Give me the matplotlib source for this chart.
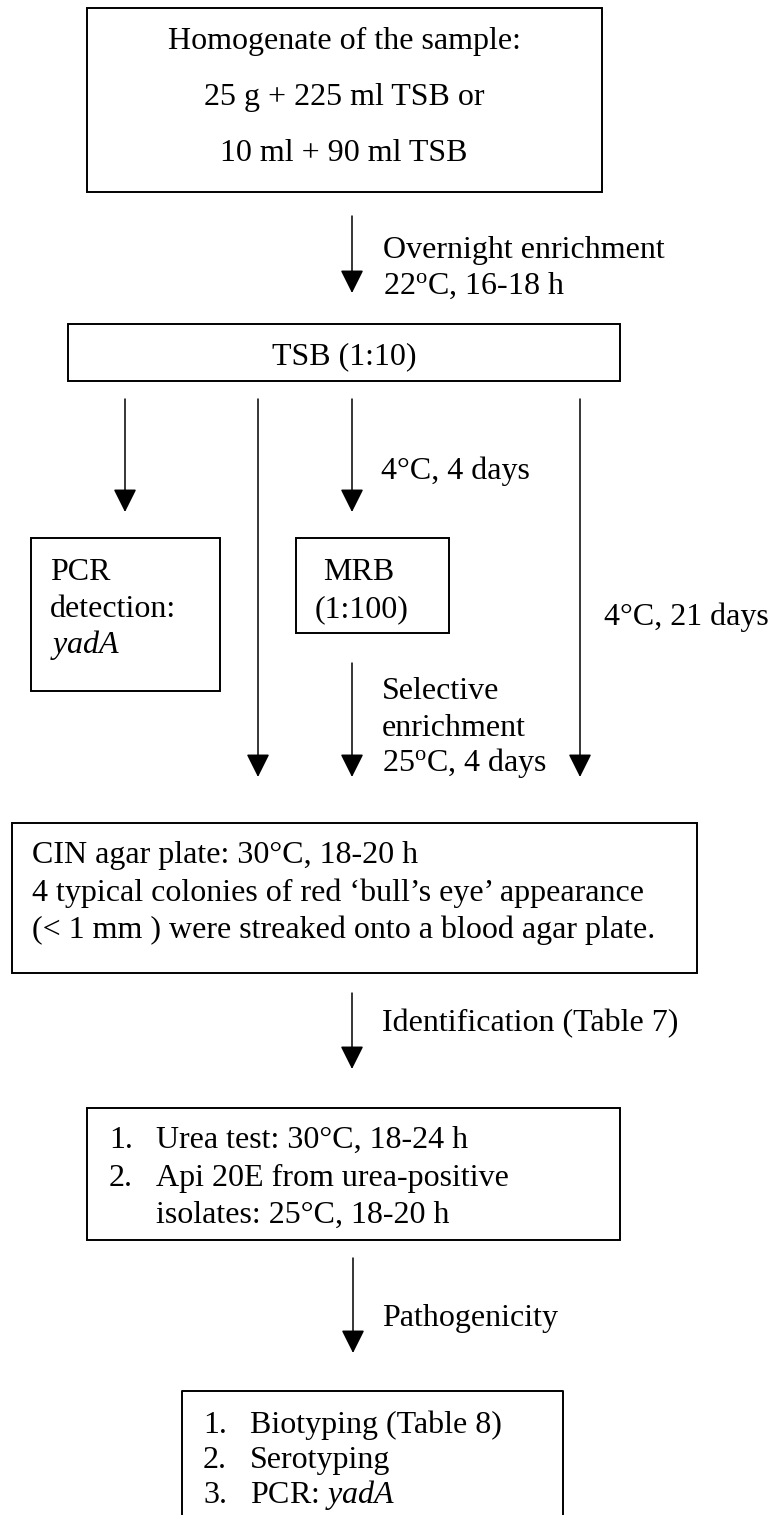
import matplotlib.pyplot as plt
from matplotlib.patches import Rectangle

plt.rcParams['font.family'] = ['Liberation Serif', 'DejaVu Serif']
plt.rcParams['mathtext.fontset'] = 'custom'
plt.rcParams['mathtext.rm'] = 'Liberation Serif'
plt.rcParams['mathtext.it'] = 'Liberation Serif:italic'

W, H = 773, 1515
FS = 23

# texts of the flowchart
sample_lines = ["Homogenate of the sample:", "25 g + 225 ml TSB or", "10 ml + 90 ml TSB"]
overnight_lines = ["Overnight enrichment", r"22$^\mathrm{o}$C, 16-18 h"]
tsb_label = "TSB (1:10)"
cold4_label = "4°C, 4 days"
pcr_lines = ["PCR", "detection:", r"$\mathit{yadA}$"]
mrb_lines = ["MRB", "(1:100)"]
cold21_label = "4°C, 21 days"
selective_lines = ["Selective", "enrichment", r"25$^\mathrm{o}$C, 4 days"]
cin_lines = ["CIN agar plate: 30°C, 18-20 h",
             "4 typical colonies of red \u2018bull\u2019s eye\u2019 appearance",
             "(< 1 mm ) were streaked onto a blood agar plate."]
ident_label = "Identification (Table 7)"
urea_items = [("1.", "Urea test: 30°C, 18-24 h"),
              ("2.", "Api 20E from urea-positive"),
              ("", "isolates: 25°C, 18-20 h")]
patho_label = "Pathogenicity"
final_items = [("1.", "Biotyping (Table 8)"),
               ("2.", "Serotyping"),
               ("3.", r"PCR: $\mathit{yadA}$")]

fig = plt.figure(figsize=(W / 100, H / 100), dpi=100)
ax = fig.add_axes([0, 0, 1, 1])
ax.set_xlim(0, W)
ax.set_ylim(H, 0)
ax.axis('off')


def box(x0, y0, x1, y1, open_bottom=False):
    if open_bottom:
        ax.plot([x0, x0, x1, x1], [y1, y0, y0, y1], color='black', lw=1.4)
    else:
        ax.add_patch(Rectangle((x0, y0), x1 - x0, y1 - y0, fill=False,
                               edgecolor='black', lw=1.4))


def arrow(x, y0, y1):
    ax.annotate("", xy=(x, y1), xytext=(x, y0),
                arrowprops=dict(arrowstyle="-|>,head_length=0.72,head_width=0.36",
                                mutation_scale=20, color='black', lw=1.1,
                                shrinkA=0, shrinkB=0))


def lines(x, ys, texts, ha='left'):
    for y, t in zip(ys, texts):
        ax.text(x, y, t, fontsize=FS, ha=ha, va='baseline')


# top box
box(87, 8, 602, 192)
lines(344, [49, 105, 161], sample_lines, ha='center')

arrow(352, 216, 293)
lines(383, [258, 294], overnight_lines)

# TSB box
box(68, 324, 620, 381)
ax.text(344, 364, tsb_label, fontsize=FS, ha='center', va='baseline')

arrow(125, 399, 512)
arrow(258, 399, 777)
arrow(352, 399, 512)
arrow(580, 399, 777)
lines(381, [479], [cold4_label])
lines(604, [625], [cold21_label])

# PCR and MRB boxes
box(31, 538, 220, 691)
lines(50, [580, 617, 653], pcr_lines)
box(296, 538, 449, 633)
lines(323, [580], mrb_lines[:1])
lines(315, [617], mrb_lines[1:])

arrow(352, 663, 777)
lines(382, [699, 736, 771], selective_lines)

# CIN box
box(12, 823, 697, 973)
lines(32, [863, 901, 938], cin_lines)

arrow(352, 993, 1069)
lines(382, [1031], [ident_label])

# urea box
box(87, 1108, 620, 1240)
for y, (num, t) in zip([1148, 1186, 1223], urea_items):
    ax.text(109, y, num, fontsize=FS, ha='left', va='baseline')
    ax.text(156, y, t, fontsize=FS, ha='left', va='baseline')

arrow(353, 1258, 1353)
lines(382, [1326], [patho_label])

# final box, cut at the bottom edge
box(182, 1391, 563, H + 5, open_bottom=True)
for y, (num, t) in zip([1433, 1468, 1503], final_items):
    ax.text(203, y, num, fontsize=FS, ha='left', va='baseline')
    ax.text(250, y, t, fontsize=FS, ha='left', va='baseline')

fig.savefig("out.png", dpi=100)
